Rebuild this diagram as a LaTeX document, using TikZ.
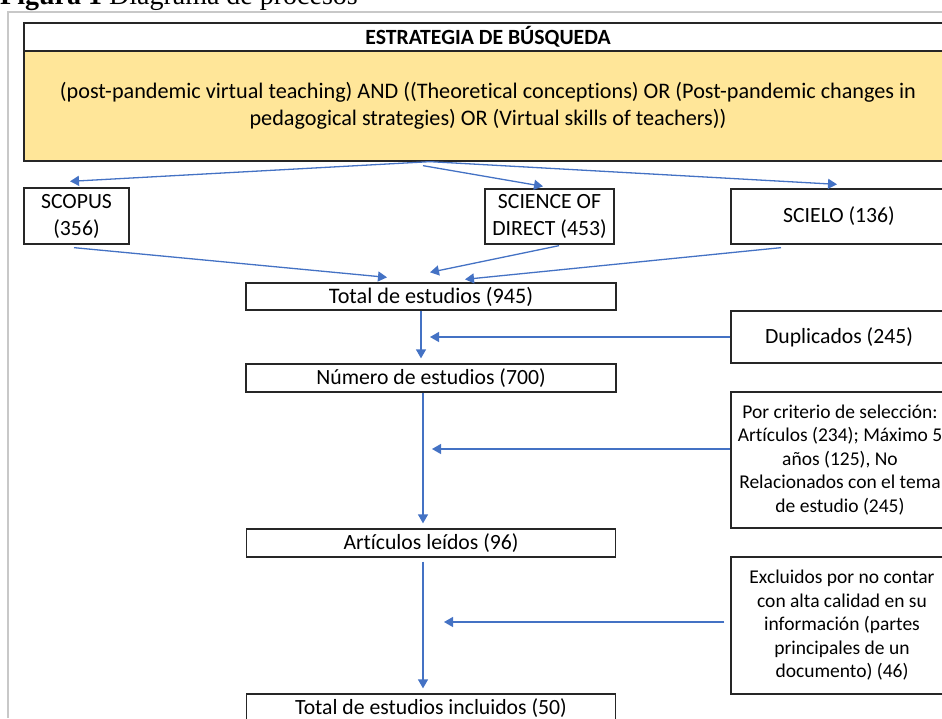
\documentclass[tikz,border=0pt]{standalone}
\usepackage{fontspec}
\setmainfont[Ligatures=NoCommon]{Carlito}
\newfontfamily\capfont{Liberation Serif}
\usetikzlibrary{arrows.meta,calc}
\definecolor{yel}{HTML}{FFE699}
\definecolor{arrblue}{HTML}{4472C4}
\definecolor{framegray}{HTML}{C8C8C8}
\begin{document}
\begin{tikzpicture}[x=1pt,y=-1pt,
  box/.style={draw=black!85,line width=1.3pt,inner sep=0pt,align=center,
    font=\fontsize{21.7}{27}\selectfont},
  bigbox/.style={box,font=\fontsize{22.2}{27.5}\selectfont},
  sidebox/.style={box,font=\fontsize{19.5}{23.5}\selectfont},
  arr/.style={draw=arrblue,line width=1.3pt,-{Triangle[length=9pt,width=10pt]}}]
\useasboundingbox (0,0) rectangle (942,718);
\clip (0,0) rectangle (942,718);
% caption and frame
\node[anchor=base west,inner sep=0pt,font=\capfont\fontsize{28}{32}\selectfont] (cap) at (0,4.5) {\textbf{Figura 1} Diagrama de procesos};
\draw[framegray,line width=2pt] (8,718) -- (8,12) -- (942,12);
% boxes
\node[box,minimum width=928,minimum height=28,font=\bfseries\fontsize{21.7}{27}\selectfont] (head) at (488,37) {ESTRATEGIA DE BÚSQUEDA};
\node[bigbox,fill=yel,minimum width=928,minimum height=110] (query) at (488,106)
  {(post-pandemic virtual teaching) AND ((Theoretical conceptions) OR (Post-pandemic changes in\\pedagogical strategies) OR (Virtual skills of teachers))};
\node[box,minimum width=105,minimum height=56] (scopus) at (76.5,216) {SCOPUS\\(356)};
\node[box,minimum width=129,minimum height=55] (science) at (549.5,216.5) {SCIENCE OF\\DIRECT (453)};
\node[box,minimum width=216,minimum height=55] (scielo) at (839,216.5) {SCIELO (136)};
\node[bigbox,minimum width=370,minimum height=27] (total) at (431,296.5) {Total de estudios (945)};
\node[box,minimum width=216,minimum height=52] (dup) at (839,337) {Duplicados (245)};
\node[box,minimum width=370,minimum height=28] (numero) at (431,378) {Número de estudios (700)};
\node[sidebox,minimum width=218,minimum height=136] (crit) at (840,460)
  {Por criterio de selección:\\Artículos (234); Máximo 5\\años (125), No\\Relacionados con el tema\\de estudio (245)};
\node[box,minimum width=369,minimum height=28] (art) at (431,543) {Artículos leídos (96)};
\node[sidebox,minimum width=222,minimum height=137] (excl) at (842,625.5)
  {Excluidos por no contar\\con alta calidad en su\\información (partes\\principales de un\\documento) (46)};
\node[box,minimum width=369,minimum height=28] (incl) at (431,708) {Total de estudios incluidos (50)};
% free ends
\coordinate (dupend) at (430,337);
\coordinate (critend) at (432,449);
\coordinate (exclend) at (444,622);
% connectors
\draw[arr] ([xshift=-58pt]query.south) -- ([xshift=-6.5pt,yshift=6pt]scopus.north);
\draw[arr] ([xshift=-65pt,yshift=-4pt]query.south) -- ([xshift=-6.5pt,yshift=2pt]science.north);
\draw[arr] ([xshift=-58pt]query.south) -- ([xshift=-2pt,yshift=4pt]scielo.north);
\draw[arr] ([xshift=-2.5pt,yshift=-3pt]scopus.south) -- ([xshift=-44pt,yshift=5pt]total.north);
\draw[arr] ([xshift=9.5pt,yshift=-1pt]science.south) -- ([xshift=-1pt,yshift=10pt]total.north);
\draw[arr] ([xshift=-58pt,yshift=-3pt]scielo.south) -- ([xshift=34pt,yshift=3pt]total.north);
\draw[arr] ([xshift=-10pt]total.south) -- ([xshift=-10pt,yshift=5pt]numero.north);
\draw[arr] (dup.west) -- (dupend);
\draw[arr] ([xshift=-8pt]numero.south) -- ([xshift=-8pt,yshift=5pt]art.north);
\draw[arr] ([yshift=11pt]crit.west) -- (critend);
\draw[arr] ([xshift=-8pt,yshift=-4pt]art.south) -- ([xshift=-8pt,yshift=5pt]incl.north);
\draw[arr] ([xshift=-6pt,yshift=3.5pt]excl.west) -- (exclend);
\end{tikzpicture}
\end{document}
